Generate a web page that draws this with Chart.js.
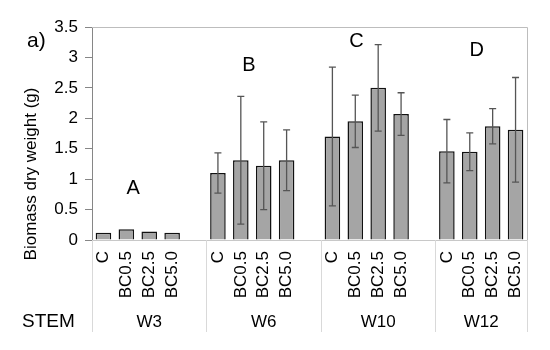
<!DOCTYPE html>
<html>
<head>
<meta charset="utf-8">
<script src="https://cdn.jsdelivr.net/npm/chart.js@4"></script>
<style>
  body { margin: 0; background: #fff; }
  #wrap { width: 550px; height: 350px; }
</style>
</head>
<body>
<div id="wrap"><canvas id="myChart" width="550" height="350"></canvas></div>
<script>
// data
const weeks = ['W3', 'W6', 'W10', 'W12'];
const treatments = ['C', 'BC0.5', 'BC2.5', 'BC5.0'];
const w3 = [0.12, 0.175, 0.14, 0.12];
const w6 = [1.10, 1.31, 1.22, 1.31];
const w10 = [1.70, 1.95, 2.50, 2.07];
const w12 = [1.46, 1.45, 1.87, 1.81];
const w3Err = [0, 0, 0, 0];
const w6Err = [0.33, 1.05, 0.72, 0.50];
const w10Err = [1.14, 0.43, 0.71, 0.35];
const w12Err = [0.52, 0.31, 0.29, 0.86];
const letters = ['A', 'B', 'C', 'D'];
const letterValues = [0.85, 2.87, 3.26, 3.12];
const yTicks = [0, 0.5, 1, 1.5, 2, 2.5, 3, 3.5];

const FONT = "'Liberation Sans', Arial, sans-serif";

// flatten groups, blank slot between weeks
const means = [w3, w6, w10, w12];
const errs = [w3Err, w6Err, w10Err, w12Err];
let labels = [], values = [], errors = [];
weeks.forEach(function(w, g) {
  treatments.forEach(function(t, i) {
    labels.push(t);
    values.push(means[g][i]);
    errors.push(errs[g][i]);
  });
  if (g < weeks.length - 1) {
    labels.push('');
    values.push(null);
    errors.push(null);
  }
});

const extras = {
  id: 'extras',
  afterDatasetsDraw(chart) {
    const ctx = chart.ctx;
    const y = chart.scales.y;
    const meta = chart.getDatasetMeta(0);
    // error bars
    ctx.save();
    ctx.strokeStyle = '#555';
    ctx.lineWidth = 1.3;
    meta.data.forEach(function(bar, i) {
      const e = errors[i];
      if (!e) return;
      const top = y.getPixelForValue(values[i] + e);
      const bot = y.getPixelForValue(values[i] - e);
      ctx.beginPath();
      ctx.moveTo(bar.x, top); ctx.lineTo(bar.x, bot);
      ctx.moveTo(bar.x - 3.5, top); ctx.lineTo(bar.x + 3.5, top);
      ctx.moveTo(bar.x - 3.5, bot); ctx.lineTo(bar.x + 3.5, bot);
      ctx.stroke();
    });
    ctx.restore();
  },
  afterDraw(chart) {
    const ctx = chart.ctx;
    const x = chart.scales.x, y = chart.scales.y;
    const area = chart.chartArea;
    ctx.save();
    // top and right frame
    ctx.strokeStyle = '#bdbdbd';
    ctx.lineWidth = 1;
    ctx.beginPath();
    ctx.moveTo(area.left, area.top + 0.5);
    ctx.lineTo(area.right + 0.5, area.top + 0.5);
    ctx.lineTo(area.right + 0.5, area.bottom);
    ctx.stroke();
    // group separators under the axis
    ctx.strokeStyle = '#d9d9d9';
    const bounds = [-0.5, 4.5, 9.5, 14.5, 18.5];
    bounds.forEach(function(b) {
      const px = Math.round(x.getPixelForValue(b)) + 0.5;
      ctx.beginPath();
      ctx.moveTo(px, area.bottom);
      ctx.lineTo(px, 332);
      ctx.stroke();
    });
    // week labels
    ctx.fillStyle = '#000';
    ctx.font = '17px ' + FONT;
    ctx.textAlign = 'center';
    ctx.textBaseline = 'middle';
    weeks.forEach(function(w, g) {
      const a = x.getPixelForValue(bounds[g]);
      const b = x.getPixelForValue(bounds[g + 1]);
      ctx.fillText(w, (a + b) / 2, 322);
    });
    ctx.font = '19px ' + FONT;
    ctx.textAlign = 'left';
    ctx.fillText('STEM', 22, 322);
    // significance letters
    const letterPos = [1.3, 6.35, 11.05, 16.3];
    ctx.font = '20px ' + FONT;
    ctx.textAlign = 'center';
    letters.forEach(function(l, g) {
      ctx.fillText(l, x.getPixelForValue(letterPos[g]), y.getPixelForValue(letterValues[g]));
    });
    // panel tag
    ctx.font = '21px ' + FONT;
    ctx.textAlign = 'left';
    ctx.fillText('a)', 27, 41);
    // y title
    ctx.translate(31, 174);
    ctx.rotate(-Math.PI / 2);
    ctx.font = '17px ' + FONT;
    ctx.textAlign = 'center';
    ctx.fillText('Biomass dry weight (g)', 0, 0);
    ctx.restore();
  }
};

const ctx = document.getElementById('myChart').getContext('2d');
const myChart = new Chart(ctx, {
  type: 'bar',
  data: {
    labels: labels,
    datasets: [{
      data: values,
      backgroundColor: '#a5a5a5',
      borderColor: '#111',
      borderWidth: 1.5,
      categoryPercentage: 1,
      barPercentage: 0.68
    }]
  },
  options: {
    responsive: false,
    animation: false,
    layout: { padding: { left: 0, right: 23, top: 27, bottom: 0 } },
    plugins: {
      legend: { display: false },
      tooltip: { enabled: false }
    },
    scales: {
      x: {
        afterFit: function(scale) { scale.height = 110; },
        grid: { display: true, drawOnChartArea: false, drawTicks: false },
        border: { color: '#c8c8c8', width: 1 },
        ticks: {
          autoSkip: false,
          minRotation: 90,
          maxRotation: 90,
          padding: 11,
          color: '#000',
          font: { family: FONT, size: 17 }
        }
      },
      y: {
        min: 0,
        max: 3.5,
        afterFit: function(scale) { scale.width = 92; },
        afterBuildTicks: function(scale) {
          scale.ticks = yTicks.map(function(v) { return { value: v }; });
        },
        grid: { display: true, drawOnChartArea: false, tickLength: 7, color: '#868686' },
        border: { color: '#868686', width: 1 },
        ticks: {
          padding: 7,
          color: '#000',
          font: { family: FONT, size: 17 },
          callback: function(v) { return String(v); }
        }
      }
    }
  },
  plugins: [extras]
});
</script>
</body>
</html>
